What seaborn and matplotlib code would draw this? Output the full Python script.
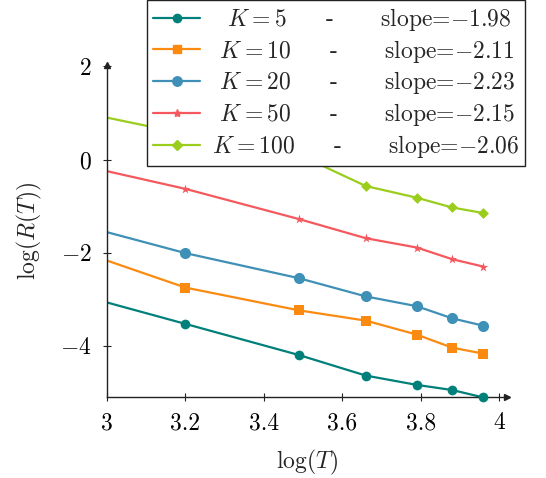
import matplotlib
matplotlib.use("Agg")
import matplotlib.pyplot as plt
from matplotlib.lines import Line2D
import seaborn as sns
import pandas as pd

    #----------------------------------------------------
    # DATA
    #----------------------------------------------------

log_T = [3.0, 3.20, 3.49, 3.66, 3.79, 3.88, 3.96]

k5 = [-3.07, -3.53, -4.20, -4.64, -4.84, -4.95, -5.11]
k10 = [-2.17, -2.75, -3.24, -3.46, -3.76, -4.04, -4.17]
k20 = [-1.56, -2.01, -2.55, -2.94, -3.15, -3.41, -3.57]
k50 = [-0.25, -0.63, -1.28, -1.69, -1.89, -2.14, -2.30]
k100 = [0.90, 0.55, 0.10, -0.57, -0.82, -1.03, -1.15]

K_values = [5, 10, 20, 50, 100]
slopes = ["-1.98", "-2.11", "-2.23", "-2.15", "-2.06"]
series = [k5, k10, k20, k50, k100]

x_ticks = [3, 3.2, 3.4, 3.6, 3.8, 4]
x_ticklabels = ["3", "3.2", "3.4", "3.6", "3.8", "4"]
y_ticks = [-4, -2, 0, 2]
y_ticklabels = [r"$-4$", r"$-2$", r"$0$", r"$2$"]

    #----------------------------------------------------
    # STYLE
    #----------------------------------------------------

colors = ["#00807a", "#fb8a10", "#3f90b6", "#f5595e", "#9acd1c"]
markers = ["o", "s", "o", "*", "D"]
msizes = [7, 7, 8, 7, 5.5]

sns.set_style("ticks")
plt.rcParams["font.family"] = ["cmr10", "DejaVu Serif"]
plt.rcParams["mathtext.fontset"] = "cm"
plt.rcParams["axes.formatter.use_mathtext"] = True
plt.rcParams["axes.unicode_minus"] = True

fig = plt.figure(figsize=(5.46, 4.78), dpi=100)
ax = fig.add_axes([107 / 546, 81 / 478, 400 / 546, 332 / 478])

handles = []
for i in range(len(series)):
    df = pd.DataFrame({"x": log_T, "y": series[i]})
    # the lines start left of the axis, no marker there
    sns.lineplot(data=df, x="x", y="y", ax=ax, color=colors[i], linewidth=1.6)
    # markers are not clipped (last teal point sits on the axis)
    sns.scatterplot(x=log_T[1:], y=series[i][1:], ax=ax, color=colors[i], marker=markers[i],
                    s=msizes[i] ** 2, edgecolor=colors[i], linewidth=0, clip_on=False, zorder=3)
    mk = Line2D([], [], color=colors[i], linewidth=1.6, marker=markers[i],
                markersize=msizes[i] * 0.85, markeredgecolor=colors[i])
    handles.append(mk)

# leading spaces to center the K column like the tabular in the original
pads = ["  ", " ", " ", " ", ""]
labels = [pads[i] + rf"$K = {K_values[i]}$     -      slope=${slopes[i]}$"
          for i in range(len(K_values))]

ax.set_xlim(3, 4.02)
ax.set_ylim(-5.1, 2.03)
ax.set_xticks(x_ticks)
ax.set_xticklabels(x_ticklabels)
ax.set_yticks(y_ticks)
ax.set_yticklabels(y_ticklabels)
ax.tick_params(direction="inout", length=6, width=0.8, labelsize=17, pad=8, colors="#222222",
               labelcolor="black")

for side in ["top", "right"]:
    ax.spines[side].set_visible(False)
for side in ["left", "bottom"]:
    ax.spines[side].set_color("#222222")
    ax.spines[side].set_linewidth(1.0)

# arrow heads like pgfplots axis lines
ax.plot(1, 0, ">", color="#222222", markersize=5, transform=ax.transAxes, clip_on=False)
ax.plot(0, 1, "^", color="#222222", markersize=5, transform=ax.transAxes, clip_on=False)

ax.set_xlabel(r"$\log(T)$", fontsize=17, labelpad=10)
ax.set_ylabel(r"$\log(R(T))$", fontsize=17, labelpad=12)

leg = ax.legend(handles, labels, loc="upper left", bbox_to_anchor=(147 / 546, 1.0),
                bbox_transform=fig.transFigure, fontsize=17, frameon=True, fancybox=False,
                handlelength=2.0, handletextpad=0.5, labelspacing=0.2, borderpad=0.25,
                borderaxespad=0)
leg.get_frame().set_edgecolor("#222222")
leg.get_frame().set_linewidth(1.0)
leg.get_frame().set_alpha(1)

fig.savefig("out.png", dpi=100)
